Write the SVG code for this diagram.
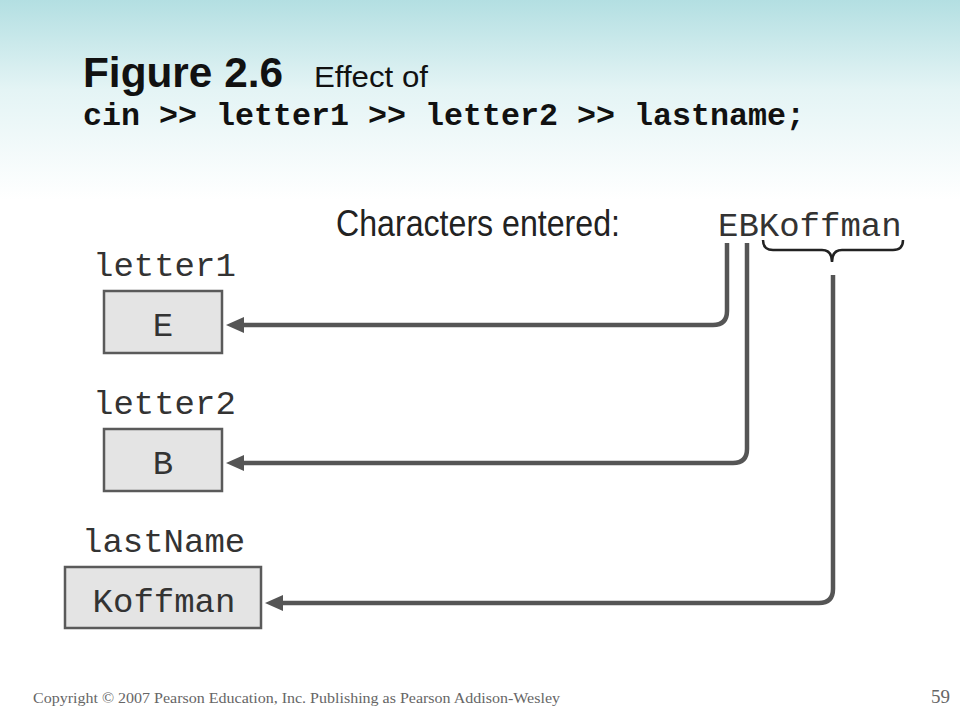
<svg xmlns="http://www.w3.org/2000/svg" width="960" height="720" viewBox="0 0 960 720">
<defs>
<linearGradient id="bg" x1="0" y1="0" x2="0" y2="1">
<stop offset="0" stop-color="#b3dfe2"/>
<stop offset="0.45" stop-color="#e4f4f5"/>
<stop offset="1" stop-color="#ffffff"/>
</linearGradient>
<marker id="arr" markerUnits="userSpaceOnUse" markerWidth="20" markerHeight="18" viewBox="0 -9 20 18" refX="2" refY="0" orient="auto">
<path d="M0,-8 L18,0 L0,8 z" fill="#555"/>
</marker>
<style>
.mono{font-family:"Liberation Mono","DejaVu Sans Mono",monospace;font-size:34px;fill:#333}
.box{fill:#e4e4e4;stroke:#5a5a5a;stroke-width:2.5}
.conn{fill:none;stroke:#555;stroke-width:4.5;stroke-linejoin:round}
</style>
</defs>
<rect width="960" height="720" fill="#fff"/>
<rect width="960" height="200" fill="url(#bg)"/>
<g id="title">
<text x="83" y="87" font-family="Liberation Sans,Arial,sans-serif" font-weight="bold" font-size="43" textLength="200" lengthAdjust="spacingAndGlyphs" fill="#111">Figure 2.6</text>
<text x="314" y="87" font-family="Liberation Sans,Arial,sans-serif" font-size="30" textLength="114" lengthAdjust="spacingAndGlyphs" fill="#111">Effect of</text>
<text x="83" y="125" font-family="Liberation Mono,monospace" font-weight="bold" font-size="31.5" textLength="722" lengthAdjust="spacingAndGlyphs" fill="#111">cin &gt;&gt; letter1 &gt;&gt; letter2 &gt;&gt; lastname;</text>
</g>
<g id="input">
<text x="336" y="236" font-family="Liberation Sans,Arial,sans-serif" font-size="37" textLength="284" lengthAdjust="spacingAndGlyphs" fill="#222">Characters entered:</text>
<text class="mono" x="718" y="236">EBKoffman</text>
<path d="M763,240 Q763,250 773,250 H822 Q832,250 832,262 Q832,250 842,250 H893 Q903,250 903,240" fill="none" stroke="#222" stroke-width="2.5"/>
</g>
<g id="letter1">
<text class="mono" x="93" y="276">letter1</text>
<rect class="box" x="104" y="291" width="118" height="62"/>
<text class="mono" x="163" y="336" text-anchor="middle">E</text>
</g>
<g id="letter2">
<text class="mono" x="93" y="414">letter2</text>
<rect class="box" x="104" y="429" width="118" height="62"/>
<text class="mono" x="163" y="474" text-anchor="middle">B</text>
</g>
<g id="lastName">
<text class="mono" x="82" y="552">lastName</text>
<rect class="box" x="65" y="567" width="196" height="61"/>
<text class="mono" x="164" y="612" text-anchor="middle">Koffman</text>
</g>
<g id="connectors">
<path class="conn" d="M727,243 V311 Q727,325 713,325 H242" marker-end="url(#arr)"/>
<path class="conn" d="M747,243 V449 Q747,463 733,463 H242" marker-end="url(#arr)"/>
<path class="conn" d="M833,275 V589 Q833,603 819,603 H281" marker-end="url(#arr)"/>
</g>
<g id="footer">
<text x="33" y="703" font-family="Liberation Serif,Times New Roman,serif" font-size="15" textLength="527" lengthAdjust="spacingAndGlyphs" fill="#666">Copyright © 2007 Pearson Education, Inc. Publishing as Pearson Addison-Wesley</text>
<text x="950" y="703" text-anchor="end" font-family="Liberation Serif,Times New Roman,serif" font-size="19" fill="#666">59</text>
</g>
</svg>
